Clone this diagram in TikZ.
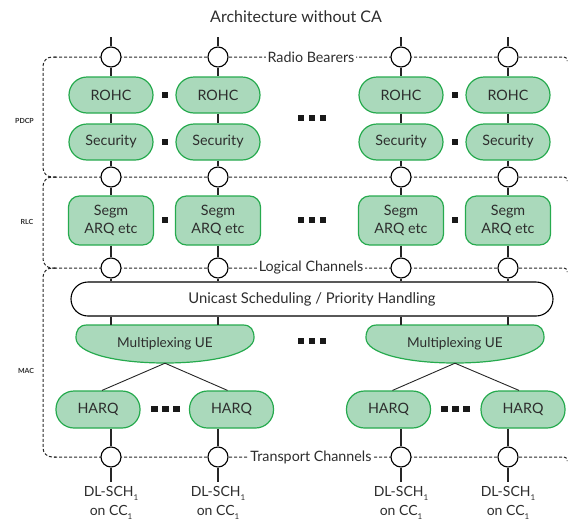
\documentclass[tikz,border=0pt]{standalone}
\usepackage{fontspec}
\setmainfont{Lato}
\usetikzlibrary{calc}
\definecolor{boxfill}{RGB}{170,217,187}
\definecolor{boxline}{RGB}{38,170,78}
\definecolor{txt}{RGB}{45,45,45}
\newcommand\subone{\raisebox{-0.45ex}{\fontsize{8}{8}\selectfont 1}}
\tikzset{
  greenbox/.style={draw=boxline, fill=boxfill, line width=1.2pt, text=txt, font=\fontsize{14.3}{18}\selectfont, minimum width=84pt, minimum height=36pt, rounded corners=18pt, inner sep=0pt, align=center},
  segmbox/.style={greenbox, minimum width=85pt, minimum height=49pt, rounded corners=11pt},
  harqbox/.style={greenbox, minimum height=37pt},
  muxnode/.style={minimum width=178pt, minimum height=38pt, inner sep=0pt, text=txt, font=\fontsize{13.6}{15}\selectfont},
  muxshape/.style={draw=boxline, fill=boxfill, line width=1.2pt},
  unibox/.style={draw=black, fill=white, line width=1.1pt, rounded corners=17pt, minimum width=482pt, minimum height=34pt, text=txt, font=\fontsize{14.8}{16}\selectfont},
  sap/.style={circle, draw=black, fill=white, line width=1.1pt, minimum size=20pt, inner sep=0pt},
  link/.style={draw=black!85, line width=1.1pt},
  dashline/.style={draw=black!85, line width=1pt, dash pattern=on 3pt off 2pt},
  chlabel/.style={fill=white, inner sep=1.5pt, text=txt, font=\fontsize{14.3}{16}\selectfont},
  layerlabel/.style={text=txt, font=\fontsize{7}{8}\selectfont\bfseries},
  sq/.style={fill=black!90, minimum size=6.5pt, inner sep=0pt},
  dltext/.style={text=txt, font=\fontsize{14}{19}\selectfont, align=center},
}
\begin{document}
\begin{tikzpicture}[x=1pt,y=-1pt]
\useasboundingbox (0,0) rectangle (571,520);
\node[text=txt, font=\fontsize{16}{18}\selectfont] (title) at (296,17) {Architecture without CA};

% dashed layer boundaries
\draw[dashline, rounded corners=9pt] (56,57) -- (43,57) -- (43,177) -- (56,177);
\draw[dashline, rounded corners=9pt] (56,177) -- (43,177) -- (43,268) -- (56,268);
\draw[dashline, rounded corners=9pt] (56,268) -- (43,268) -- (43,457) -- (56,457);
\foreach \yy in {57,177,268,457}{
  \draw[dashline, rounded corners=3pt] (54,\yy) -- (567,\yy) -- (567,\yy+4);
}
\node[layerlabel] (pdcp) at (24.5,121) {PDCP};
\node[layerlabel] (rlc) at (27,222) {RLC};
\node[layerlabel] (mac) at (26,371) {MAC};

\node[chlabel] (rb) at (311,57) {Radio Bearers};
\node[chlabel] (lch) at (311,268) {Logical Channels};
\node[chlabel] (tch) at (311,457) {Transport Channels};

% columns
\foreach \c/\x in {A/111,B/218,C/401,D/508}{
  \coordinate (top\c) at (\x,37);
  \coordinate (bot\c) at (\x,482);
  \node[greenbox] (rohc\c) at (\x,95) {ROHC};
  \node[greenbox] (sec\c) at (\x,142) {Security};
  \node[segmbox] (seg\c) at (\x,220.5) {Segm\\ARQ etc};
  \node[sap] (rb\c) at (\x,57) {};
  \node[sap] (pc\c) at (\x,177) {};
  \node[sap] (lc\c) at (\x,268) {};
  \node[sap] (tc\c) at (\x,457) {};
  \node[dltext] (dl\c) at (\x,503) {DL-SCH\subone\\on CC\subone};
  \draw[link] (top\c) -- (rb\c);
  \draw[link] (rb\c) -- (rohc\c);
  \draw[link] (rohc\c) -- (sec\c);
  \draw[link] (sec\c) -- (pc\c);
  \draw[link] (pc\c) -- (seg\c);
  \draw[link] (seg\c) -- (lc\c);
  \draw[link] (tc\c) -- (bot\c);
}

\node[unibox] (uni) at (312,299) {Unicast Scheduling / Priority Handling};
\foreach \c in {A,B,C,D}{ \draw[link] (lc\c) -- (uni.north -| lc\c); }

% multiplexing
\foreach \m/\cx in {1/165,2/455}{
  \draw[muxshape] (\cx-78,325) -- (\cx+78,325) .. controls (\cx+86,325) and (\cx+89,330) .. (\cx+89,338)
    .. controls (\cx+89,353) and (\cx+50,363) .. (\cx,363)
    .. controls (\cx-50,363) and (\cx-89,353) .. (\cx-89,338)
    .. controls (\cx-89,330) and (\cx-86,325) .. (\cx-78,325) -- cycle;
  \node[muxnode] (mux\m) at (\cx,344) {Multiplexing UE};
}
\draw[link] (uni.south -| lcA) -- (mux1.north -| lcA);
\draw[link] (uni.south -| lcB) -- (mux1.north -| lcB);
\draw[link] (uni.south -| lcC) -- (mux2.north -| lcC);
\draw[link] (uni.south -| lcD) -- (mux2.north -| lcD);

\node[harqbox] (harq1) at (98,409.5) {HARQ};
\node[harqbox] (harq2) at (231.5,409.5) {HARQ};
\node[harqbox] (harq3) at (388.5,409.5) {HARQ};
\node[harqbox] (harq4) at (523,409.5) {HARQ};
\draw[link, line width=0.9pt] (mux1.south) -- ($(harq1.north)+(4,0)$);
\draw[link, line width=0.9pt] (mux1.south) -- ($(harq2.north)+(-4,0)$);
\draw[link, line width=0.9pt] (mux2.south) -- ($(harq3.north)+(4,0)$);
\draw[link, line width=0.9pt] (mux2.south) -- ($(harq4.north)+(-4,0)$);
\draw[link] (harq1.south -| tcA) -- (tcA);
\draw[link] (harq2.south -| tcB) -- (tcB);
\draw[link] (harq3.south -| tcC) -- (tcC);
\draw[link] (harq4.south -| tcD) -- (tcD);

% separators
\foreach \x/\y in {165/95,455/95,165/142,455/142,165/220,455/220}{
  \node[sq] at (\x,\y) {};
}
\foreach \x/\y in {312/118,312/220,312/341,165.5/409,455.5/409}{
  \node[sq] at (\x-11,\y) {};
  \node[sq] at (\x,\y) {};
  \node[sq] at (\x+11,\y) {};
}
\end{tikzpicture}
\end{document}
